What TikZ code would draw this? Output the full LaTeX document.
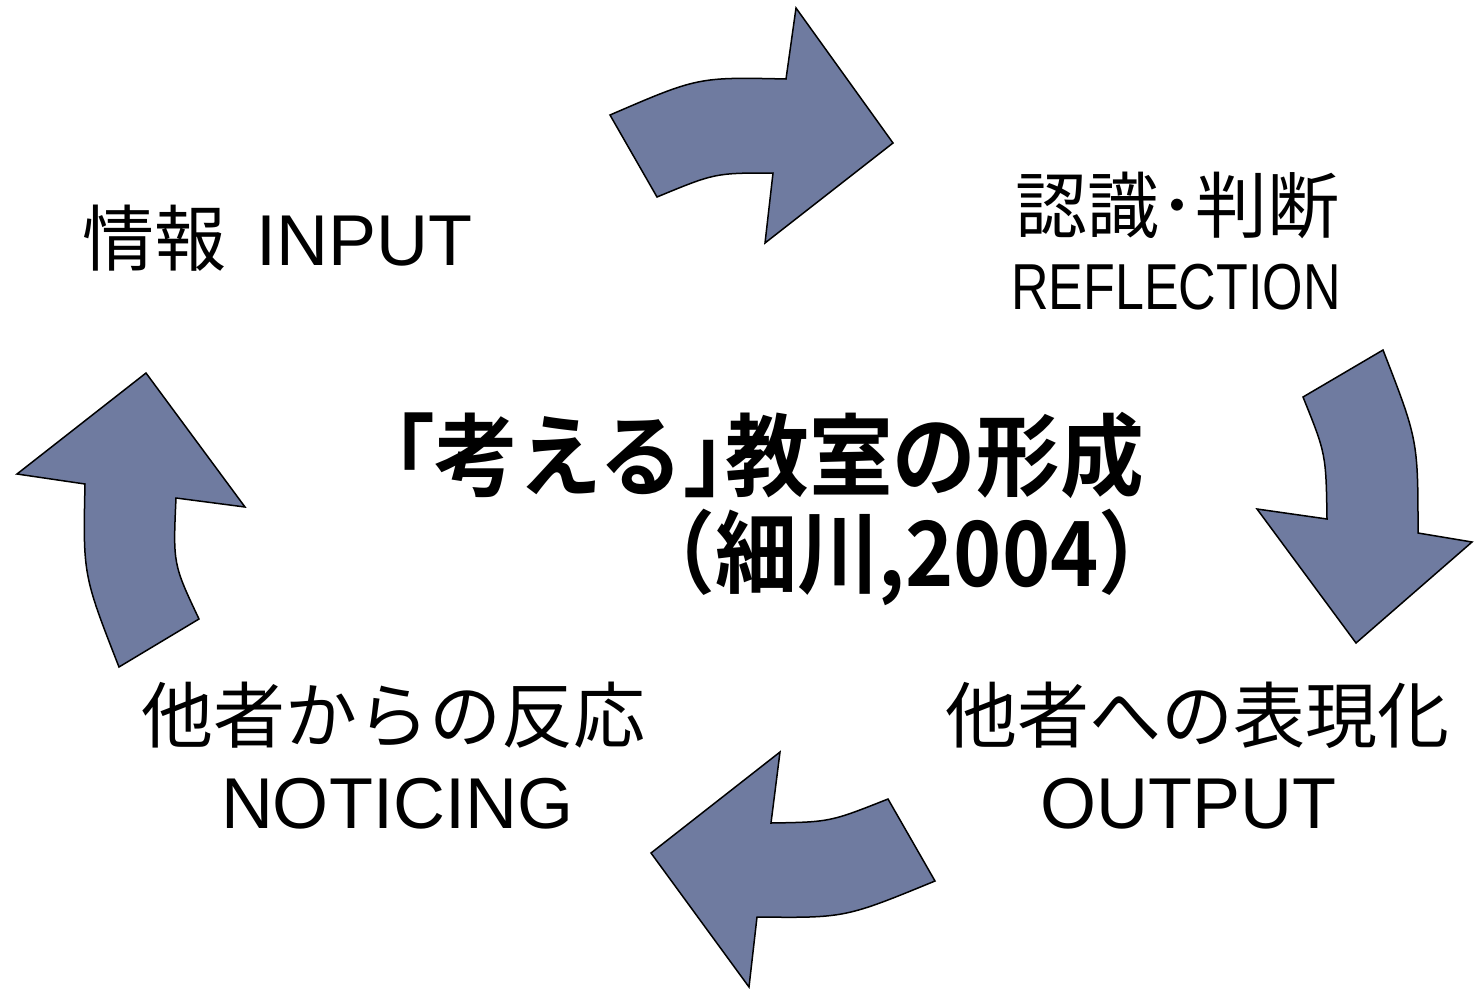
\documentclass[tikz,border=0pt]{standalone}
\usepackage{fontspec}
\setmainfont{Liberation Sans}
\newfontfamily\jp{Noto Sans CJK JP}
\newfontfamily\jpb{Noto Sans CJK JP Bold}[RawFeature=+halt]
\definecolor{arrowfill}{RGB}{111,123,160}
\tikzset{
  cyclearrow/.style={fill=arrowfill, draw=black, line width=1.5pt, line join=miter},
  labeltext/.style={inner sep=0pt, font=\fontsize{72}{80}\selectfont},
  titletext/.style={inner sep=0pt, font=\jpb\fontsize{90}{100}\selectfont}
}
\begin{document}
\begin{tikzpicture}[x=1pt,y=-1pt]
\useasboundingbox (0,0) rectangle (1474,988);
% top arrow
\draw[cyclearrow] (610,115) -- (657,197) .. controls (715,173) .. (773,173) -- (765,243) -- (893,143) -- (796,8) -- (786,79) .. controls (698,77) .. (610,115) -- cycle;
% right arrow
\draw[cyclearrow] (1303,397) -- (1383,350) .. controls (1418,440) .. (1418,533) -- (1472,542) -- (1356,643) -- (1257,509) -- (1327,519) .. controls (1326,454) .. (1303,397) -- cycle;
% bottom arrow
\draw[cyclearrow] (888,799) -- (935,881) .. controls (845,918) .. (757,917) -- (749,987) -- (651,853) -- (780,752) -- (771,823) .. controls (830,822) .. (888,799) -- cycle;
% left arrow
\draw[cyclearrow] (119,667) -- (199,619) .. controls (173,564) .. (176,498) -- (245,507) -- (146,373) -- (17,474) -- (85,484) .. controls (83,575) .. (119,667) -- cycle;
% labels
\node[labeltext, anchor=base west] (input) at (82,265) {{\jp 情報}\hspace{30pt}INPUT};
\node[labeltext, anchor=base] (refl1) at (1177,232) {\jp 認識･判断};
\node[anchor=base, inner sep=0pt] (refl2) at (1176,309) {\scalebox{0.8}[1]{\fontsize{65}{70}\selectfont REFLECTION}};
\node[labeltext, anchor=base] (notice1) at (393,742) {\jp 他者からの反応};
\node[labeltext, anchor=base] (notice2) at (397,828) {NOTICING};
\node[labeltext, anchor=base] (output1) at (1197,742) {\jp 他者への表現化};
\node[labeltext, anchor=base] (output2) at (1188,828) {OUTPUT};
\node[titletext, anchor=base east] (title1) at (1144,489) {\scalebox{0.93}[1]{「考える」教室の形成}};
\node[titletext, anchor=base east] (title2) at (1140,586) {\scalebox{0.91}[1]{（細川,2004）}};
\end{tikzpicture}
\end{document}
